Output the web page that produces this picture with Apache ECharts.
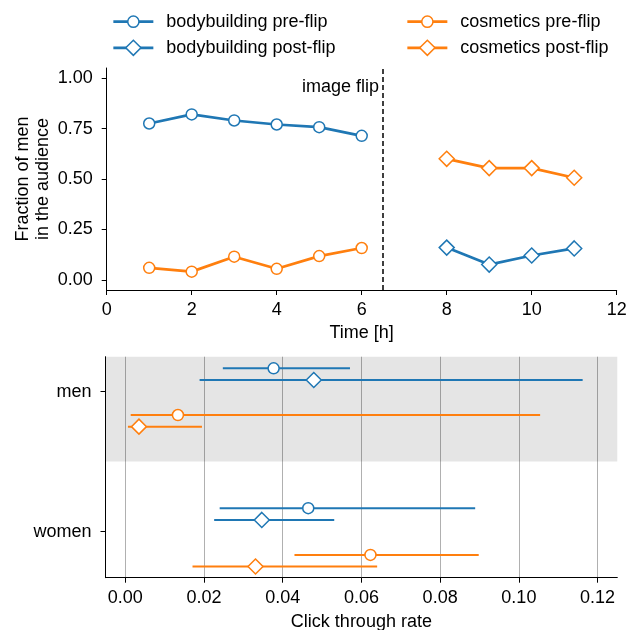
<!DOCTYPE html>
<html>
<head>
<meta charset="utf-8">
<title>image flip</title>
<script src="https://cdn.jsdelivr.net/npm/echarts@6/dist/echarts.min.js"></script>
<style>
    html, body { margin: 0; padding: 0; background: #fff; }
    #main { width: 629px; height: 630px; }
</style>
</head>
<body>
<div id="main"></div>
<script>
    var BLUE = '#1f77b4', ORANGE = '#ff7f0e';
    var FONT = "'Liberation Sans', Arial, sans-serif";
    var FS = 18;

    // top panel: fraction of men in the audience, per hour
    var hoursPre = [1, 2, 3, 4, 5, 6];
    var hoursPost = [8, 9, 10, 11];
    var bodyPre = [0.775, 0.82, 0.79, 0.77, 0.757, 0.714];
    var cosmPre = [0.06, 0.041, 0.115, 0.055, 0.118, 0.158];
    var bodyPost = [0.16, 0.076, 0.121, 0.156];
    var cosmPost = [0.60, 0.554, 0.554, 0.506];
    var flipHour = 6.5;
    var fracTicks = [0, 0.25, 0.5, 0.75, 1.0];

    // bottom panel: click through rate with intervals, order [men, women]
    var groups = ['men', 'women'];
    var groupPos = [0, 1];
    var bodyPreCtr = [0.0377, 0.0465], bodyPreLo = [0.0248, 0.0240], bodyPreHi = [0.0571, 0.0889];
    var bodyPostCtr = [0.0479, 0.0347], bodyPostLo = [0.0189, 0.0226], bodyPostHi = [0.1162, 0.0531];
    var cosmPreCtr = [0.0134, 0.0623], cosmPreLo = [0.0014, 0.0430], cosmPreHi = [0.1054, 0.0898];
    var cosmPostCtr = [0.0035, 0.0331], cosmPostLo = [0.0007, 0.0171], cosmPostHi = [0.0195, 0.0640];
    var rowOffset = [-0.167, -0.083, 0.167, 0.25];
    var ctrTicks = [0, 0.02, 0.04, 0.06, 0.08, 0.1, 0.12];
    var menBand = [-0.25, 0.5];

    var LW = 2.7;

    function pairs(xs, ys) {
        return xs.map(function (x, i) { return [x, ys[i]]; });
    }

    function axisBase() {
        return {
            axisLine: { onZero: false, lineStyle: { color: '#000', width: 1 } },
            axisTick: { length: 5, lineStyle: { color: '#000' } },
            axisLabel: { color: '#000', fontFamily: FONT, fontSize: FS },
            splitLine: { show: false },
            nameTextStyle: { color: '#000', fontFamily: FONT, fontSize: FS },
            nameMoveOverlap: false
        };
    }

    function merge(a, b) {
        for (var k in b) {
            if (a[k] && typeof a[k] === 'object' && !Array.isArray(a[k])) merge(a[k], b[k]);
            else a[k] = b[k];
        }
        return a;
    }

    function lineSeries(name, xs, ys, color, symbol, size) {
        return {
            name: name, type: 'line', xAxisIndex: 0, yAxisIndex: 0,
            data: pairs(xs, ys),
            symbol: symbol, symbolSize: size, showSymbol: true,
            lineStyle: { color: color, width: LW },
            itemStyle: { color: '#fff', borderColor: color, borderWidth: 1.5 },
            z: 3
        };
    }

    function errorRender(params, api) {
        var y = api.value(2);
        var a = api.coord([api.value(0), y]);
        var b = api.coord([api.value(1), y]);
        return {
            type: 'line',
            shape: { x1: a[0], y1: a[1], x2: b[0], y2: b[1] },
            style: { stroke: api.visual('color'), lineWidth: 2 }
        };
    }

    function ctrSeries(key, ctr, lo, hi, off, color, symbol, size) {
        var ys = groupPos.map(function (p) { return p + off; });
        return [{
            name: key + ' ci', type: 'custom', xAxisIndex: 1, yAxisIndex: 1,
            data: lo.map(function (v, i) { return [v, hi[i], ys[i]]; }),
            encode: { x: [0, 1], y: 2 },
            renderItem: errorRender,
            itemStyle: { color: color },
            z: 3
        }, {
            name: key + ' ctr', type: 'scatter', xAxisIndex: 1, yAxisIndex: 1,
            data: pairs(ctr, ys),
            symbol: symbol, symbolSize: size,
            itemStyle: { color: '#fff', borderColor: color, borderWidth: 1.5, opacity: 1 },
            z: 4
        }];
    }

    var series = [
        lineSeries('bodybuilding pre-flip', hoursPre, bodyPre, BLUE, 'circle', 11),
        lineSeries('bodybuilding post-flip', hoursPost, bodyPost, BLUE, 'diamond', 15),
        lineSeries('cosmetics pre-flip', hoursPre, cosmPre, ORANGE, 'circle', 11),
        lineSeries('cosmetics post-flip', hoursPost, cosmPost, ORANGE, 'diamond', 15)
    ];
    series[0].markLine = {
        silent: true, symbol: 'none', animation: false,
        label: { show: false },
        lineStyle: { color: '#000', type: [5, 3], width: 1.5 },
        data: [{ xAxis: flipHour }]
    };
    series[0].markPoint = {
        silent: true, symbol: 'circle', symbolSize: 0,
        label: { show: true, position: 'left', distance: 4, formatter: 'image flip',
                 color: '#000', fontFamily: FONT, fontSize: FS },
        data: [{ coord: [flipHour, 0.958] }]
    };

    series = series
        .concat(ctrSeries('bodyPre', bodyPreCtr, bodyPreLo, bodyPreHi, rowOffset[0], BLUE, 'circle', 11))
        .concat(ctrSeries('bodyPost', bodyPostCtr, bodyPostLo, bodyPostHi, rowOffset[1], BLUE, 'diamond', 15))
        .concat(ctrSeries('cosmPre', cosmPreCtr, cosmPreLo, cosmPreHi, rowOffset[2], ORANGE, 'circle', 11))
        .concat(ctrSeries('cosmPost', cosmPostCtr, cosmPostLo, cosmPostHi, rowOffset[3], ORANGE, 'diamond', 15));
    series[4].markArea = {
        silent: true,
        itemStyle: { color: 'rgba(0,0,0,0.1)' },
        data: [[{ xAxis: -0.005, yAxis: menBand[0] }, { xAxis: 0.125, yAxis: menBand[1] }]]
    };

    // one legend per entry so circles and diamonds get their own icon size
    function legend(name, left, rowY, iconH) {
        var boxH = Math.max(iconH, FS);
        return {
            data: [{ name: name, lineStyle: { width: LW }, itemStyle: { borderWidth: 1.5 } }],
            orient: 'vertical', left: left, top: rowY - boxH / 2,
            padding: 0, itemWidth: 40, itemHeight: iconH,
            selectedMode: false,
            lineStyle: { width: LW },
            itemStyle: { borderWidth: 1.5 },
            textStyle: { color: '#000', fontFamily: FONT, fontSize: FS, lineHeight: FS, padding: [0, 0, 0, 8] }
        };
    }

    var option = {
        animation: false,
        textStyle: { fontFamily: FONT },
        legend: [
            legend('bodybuilding pre-flip', 112, 21.7, 14),
            legend('bodybuilding post-flip', 112, 48.3, 19),
            legend('cosmetics pre-flip', 406, 21.7, 14),
            legend('cosmetics post-flip', 406, 48.3, 19)
        ],
        grid: [
            { left: 106.7, top: 68, width: 510, height: 222, outerBoundsMode: 'none' },
            { left: 105.5, top: 356.7, width: 511.8, height: 221, outerBoundsMode: 'none' }
        ],
        xAxis: [
            merge(axisBase(), {
                type: 'value', gridIndex: 0, min: 0, max: 12, interval: 2,
                name: 'Time [h]', nameLocation: 'middle', nameGap: 34.3,
                axisLabel: { margin: 11 }
            }),
            merge(axisBase(), {
                type: 'value', gridIndex: 1, min: -0.005, max: 0.125,
                name: 'Click through rate', nameLocation: 'middle', nameGap: 35,
                axisTick: { customValues: ctrTicks },
                axisLabel: { margin: 11.6, customValues: ctrTicks,
                             formatter: function (v) { return v.toFixed(2); } },
                splitLine: { show: true, lineStyle: { color: '#b0b0b0', width: 1 } }
            })
        ],
        yAxis: [
            merge(axisBase(), {
                type: 'value', gridIndex: 0, min: -0.05, max: 1.05,
                name: 'Fraction of men\nin the audience', nameLocation: 'middle',
                nameRotate: 90, nameGap: 54,
                nameTextStyle: { lineHeight: 20 },
                axisTick: { customValues: fracTicks },
                axisLabel: { margin: 14, customValues: fracTicks,
                             formatter: function (v) { return v.toFixed(2); } }
            }),
            merge(axisBase(), {
                type: 'value', gridIndex: 1, inverse: true, min: -0.25, max: 1.33,
                axisTick: { customValues: groupPos },
                axisLabel: { margin: 14, customValues: groupPos,
                             formatter: function (v) { return groups[groupPos.indexOf(v)]; } }
            })
        ],
        series: series
    };

    var chart = echarts.init(document.getElementById('main'), null, { renderer: 'canvas' });
    chart.setOption(option);
</script>
</body>
</html>
